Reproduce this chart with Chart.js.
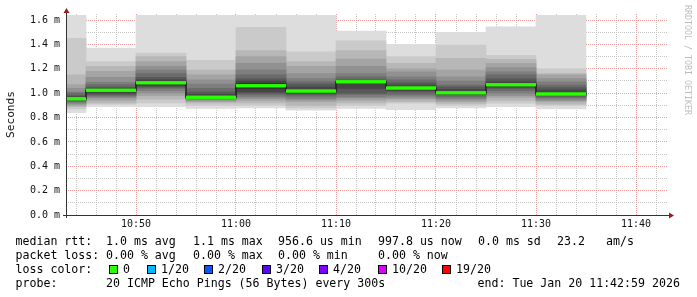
<!DOCTYPE html>
<html>
<head>
<meta charset="utf-8">
<script src="https://cdn.jsdelivr.net/npm/chart.js@4/dist/chart.umd.min.js"></script>
<style>
  html, body { margin: 0; padding: 0; background: #fff; }
  #wrap { position: relative; width: 697px; height: 297px; overflow: hidden; }
  #chart { position: absolute; left: 0; top: 0; }
  .leg { position: absolute; font: 11.6px "DejaVu Sans Mono", monospace; line-height: 14px; color: #000; white-space: pre; }
  .box { position: absolute; width: 9px; height: 9px; box-sizing: border-box; border: 1px solid #000; }
</style>
</head>
<body>
<div id="wrap">
  <canvas id="chart" width="697" height="297"></canvas>
  <div id="legend"></div>
</div>
<script>
// 5 minute slots, 20 pings each, sorted (ms)
const slotStart = [ "10:40", "10:45", "10:50", "10:55", "11:00", "11:05", "11:10", "11:15", "11:20", "11:25", "11:30" ];
const slotMinutes = 5;

const p1040 = [ 0.84, 0.87, 0.89, 0.90, 0.91, 0.92, 0.93, 0.94, 0.95, 0.955, 0.965, 0.97, 0.98, 1.00, 1.01, 1.04, 1.07, 1.15, 1.45, 1.64 ];
const p1045 = [ 0.89, 0.91, 0.92, 0.94, 0.96, 0.97, 0.98, 0.99, 1.00, 1.02, 1.03, 1.04, 1.05, 1.07, 1.09, 1.13, 1.18, 1.22, 1.26, 1.37 ];
const p1050 = [ 0.89, 0.92, 0.95, 0.98, 1.00, 1.02, 1.04, 1.05, 1.06, 1.075, 1.095, 1.11, 1.13, 1.16, 1.19, 1.22, 1.26, 1.30, 1.33, 1.64 ];
const p1055 = [ 0.875, 0.90, 0.92, 0.93, 0.94, 0.95, 0.955, 0.96, 0.962, 0.965, 0.967, 0.99, 1.01, 1.04, 1.075, 1.11, 1.15, 1.19, 1.27, 1.64 ];
const p1100 = [ 0.88, 0.90, 0.92, 0.94, 0.957, 0.97, 0.985, 1.00, 1.01, 1.04, 1.08, 1.10, 1.12, 1.15, 1.19, 1.245, 1.30, 1.35, 1.54, 1.64 ];
const p1105 = [ 0.86, 0.88, 0.90, 0.93, 0.945, 0.957, 0.976, 0.99, 1.00, 1.004, 1.03, 1.05, 1.075, 1.094, 1.12, 1.16, 1.22, 1.26, 1.34, 1.64 ];
const p1110 = [ 0.875, 0.90, 0.92, 0.94, 0.96, 0.97, 0.99, 1.00, 1.04, 1.09, 1.098, 1.10, 1.11, 1.135, 1.16, 1.22, 1.28, 1.35, 1.43, 1.51 ];
const p1115 = [ 0.865, 0.917, 0.93, 0.95, 0.96, 0.976, 0.99, 1.01, 1.02, 1.034, 1.05, 1.067, 1.086, 1.11, 1.135, 1.176, 1.20, 1.245, 1.30, 1.40 ];
const p1120 = [ 0.88, 0.90, 0.915, 0.93, 0.945, 0.957, 0.97, 0.985, 0.99, 0.996, 1.01, 1.03, 1.05, 1.067, 1.10, 1.135, 1.19, 1.286, 1.395, 1.50 ];
const p1125 = [ 0.89, 0.917, 0.94, 0.966, 0.98, 1.00, 1.02, 1.04, 1.05, 1.06, 1.08, 1.094, 1.12, 1.15, 1.176, 1.21, 1.245, 1.277, 1.31, 1.545 ];
const p1130 = [ 0.87, 0.90, 0.91, 0.93, 0.94, 0.95, 0.966, 0.975, 0.98, 0.986, 1.00, 1.026, 1.045, 1.067, 1.094, 1.12, 1.15, 1.16, 1.20, 1.64 ];
const pings = [ p1040, p1045, p1050, p1055, p1100, p1105, p1110, p1115, p1120, p1125, p1130 ];

const medianRtt = [ 0.955, 1.025, 1.085, 0.966, 1.06, 1.017, 1.094, 1.042, 1.003, 1.07, 0.993 ];

// axes
const xStart = "10:43";
const xEnd = 103.2; // minutes after 10:00
const xTickLabels = [ "10:50", "11:00", "11:10", "11:20", "11:30", "11:40" ];
const yTickLabels = [ "0.0 m", "0.2 m", "0.4 m", "0.6 m", "0.8 m", "1.0 m", "1.2 m", "1.4 m", "1.6 m" ];
const yMax = 1.65;

// legend text
const rttLabel = "median rtt:";
const rttStats = [ "1.0 ms avg", "1.1 ms max", "956.6 us min", "997.8 us now", "0.0 ms sd", "23.2", "am/s" ];
const lossLabel = "packet loss:";
const lossStats = [ "0.00 % avg", "0.00 % max", "0.00 % min", "0.00 % now" ];
const lossColorLabel = "loss color:";
const lossNames = [ "0", "1/20", "2/20", "3/20", "4/20", "10/20", "19/20" ];
const lossColors = [ "#26ff00", "#00b8ff", "#0059ff", "#5e00ff", "#7e00ff", "#dd00ff", "#ff0000" ];
const probeLabel = "probe:";
const probeText = "20 ICMP Echo Pings (56 Bytes) every 300s";
const endText = "end: Tue Jan 20 11:42:59 2026";
const watermark = "RRDTOOL / TOBI OETIKER";

const toMin = t => {
  const [ h, m ] = t.split( ":" ).map( Number );
  return ( h - 10 ) * 60 + m;
};

const xMajor = xTickLabels.map( toMin );
const xGrid = [];
for ( let m = 44; m < xEnd; m += 2 ) xGrid.push( m );
const yGrid = [];
for ( let k = 0; k <= 16; k++ ) yGrid.push( k / 10 );

const gray = "#c4c4c4";
const red = "#ec9a9a";
const monoFont = "DejaVu Sans Mono";

// smoke bands: pair i-th lowest with i-th highest ping, all in one stack slot
const half = pings[ 0 ].length / 2;
const datasets = [];
for ( let k = 0; k < half; k++ ) {
  const g = Math.floor( 190 / half * ( half - 1 - k ) ) + 50;
  datasets.push( {
    type: "bar",
    stack: "smoke",
    data: slotStart.map( ( s, j ) => ( {
      x: toMin( s ) + slotMinutes / 2,
      y: [ pings[ j ][ k ], pings[ j ][ pings[ j ].length - 1 - k ] ]
    } ) ),
    backgroundColor: `rgb(${ g },${ g },${ g })`,
    borderWidth: 0,
    barThickness: "flex",
    barPercentage: 1,
    categoryPercentage: 1,
    order: 2 + ( half - 1 - k ),
    clip: 0
  } );
};

const stepPts = slotStart.map( ( s, j ) => ( { x: toMin( s ), y: medianRtt[ j ] } ) );
stepPts.push( { x: toMin( slotStart[ slotStart.length - 1 ] ) + slotMinutes, y: medianRtt[ medianRtt.length - 1 ] } );
const greenPts = [];
slotStart.forEach( ( s, j ) => {
  const a = toMin( s );
  greenPts.push( { x: a, y: medianRtt[ j ] }, { x: a + slotMinutes, y: medianRtt[ j ] }, { x: a + slotMinutes, y: null } );
} );

const stepIdx = datasets.length;
datasets.push( {
  type: "line", data: stepPts, stepped: true, borderColor: "#202020", borderWidth: 1,
  pointRadius: 0, fill: false, order: 1, clip: 0
} );
const greenIdx = datasets.length;
datasets.push( {
  type: "line", data: greenPts, borderColor: lossColors[ 0 ], borderWidth: 3, borderCapStyle: "butt",
  pointRadius: 0, fill: false, spanGaps: false, order: 0, clip: 0
} );

const rrdFrame = {
  id: "rrdFrame",
  afterDraw ( chart ) {
    const { ctx, chartArea: a } = chart;
    // median lines sit above the grid
    ctx.save();
    ctx.beginPath();
    ctx.rect( a.left, a.top, a.right - a.left, a.bottom - a.top );
    ctx.clip();
    [ stepIdx, greenIdx ].forEach( i => chart.getDatasetMeta( i ).controller.draw() );
    ctx.restore();

    const x0 = a.left + 0.5;
    const yb = a.bottom + 0.5;
    ctx.save();
    ctx.strokeStyle = "#333";
    ctx.lineWidth = 1;
    ctx.beginPath();
    ctx.moveTo( x0, a.bottom + 3 ); ctx.lineTo( x0, a.top - 2 );
    ctx.moveTo( a.left - 3, yb ); ctx.lineTo( a.right + 1, yb );
    ctx.stroke();
    ctx.fillStyle = "#9a1c1c";
    ctx.beginPath();
    ctx.moveTo( x0, a.top - 6 ); ctx.lineTo( x0 - 3, a.top - 1 ); ctx.lineTo( x0 + 3, a.top - 1 );
    ctx.fill();
    ctx.beginPath();
    ctx.moveTo( a.right + 6, yb ); ctx.lineTo( a.right + 1, yb - 3 ); ctx.lineTo( a.right + 1, yb + 3 );
    ctx.fill();

    ctx.translate( 687, 5 );
    ctx.rotate( Math.PI / 2 );
    ctx.font = `8.3px "${ monoFont }"`;
    ctx.fillStyle = "#bdbdbd";
    ctx.textBaseline = "middle";
    ctx.fillText( watermark, 0, 0 );
    ctx.restore();
  }
};

new Chart( document.getElementById( "chart" ), {
  type: "bar",
  data: { datasets },
  plugins: [ rrdFrame ],
  options: {
    responsive: false,
    animation: false,
    events: [],
    layout: { padding: { top: 14, right: 29, bottom: 66, left: 0 } },
    plugins: { legend: { display: false }, tooltip: { enabled: false } },
    scales: {
      x: {
        type: "linear",
        min: toMin( xStart ),
        max: xEnd,
        offset: false,
        z: 1,
        afterBuildTicks: s => { s.ticks = xGrid.map( v => ( { value: v } ) ); },
        afterFit: s => { s.height = 16; },
        grid: {
          offset: false,
          drawTicks: false,
          color: c => xMajor.includes( c.tick.value ) ? red : gray
        },
        border: { display: false, dash: [ 1, 1 ] },
        ticks: {
          autoSkip: false, maxRotation: 0, minRotation: 0, padding: 3,
          color: "#111",
          font: { family: monoFont, size: 10 },
          callback: v => {
            const i = xMajor.indexOf( v );
            return i >= 0 ? xTickLabels[ i ] : "";
          }
        }
      },
      y: {
        min: 0,
        max: yMax,
        stacked: false,
        z: 1,
        afterBuildTicks: s => { s.ticks = yGrid.map( v => ( { value: v } ) ); },
        afterFit: s => { s.width = 66; },
        grid: {
          drawTicks: false,
          color: c => Math.round( c.tick.value * 10 ) % 2 === 0 ? red : gray
        },
        border: { display: false, dash: [ 1, 1 ] },
        title: {
          display: true, text: "Seconds", color: "#111",
          font: { family: monoFont, size: 11.2 },
          padding: { top: 4, bottom: 0 }
        },
        ticks: {
          autoSkip: false, padding: 6, color: "#111",
          font: { family: monoFont, size: 10 },
          callback: v => {
            const k = Math.round( v * 10 );
            return k % 2 === 0 ? yTickLabels[ k / 2 ] : "";
          }
        }
      }
    }
  }
} );

// legend rows below the plot
const legend = document.getElementById( "legend" );
function addText ( x, y, text ) {
  const d = document.createElement( "div" );
  d.className = "leg";
  d.style.left = x + "px";
  d.style.top = y + "px";
  d.textContent = text;
  legend.appendChild( d );
};
function addBox ( x, y, color ) {
  const d = document.createElement( "div" );
  d.className = "box";
  d.style.left = x + "px";
  d.style.top = y + "px";
  d.style.background = color;
  legend.appendChild( d );
};

const rowTop = [ 234, 248, 262, 276 ];
const statX = [ 106, 193, 278, 378, 478, 557, 606 ];
const boxX = [ 109, 147, 204, 262, 319, 378, 442 ];

addText( 15.5, rowTop[ 0 ], rttLabel );
rttStats.forEach( ( t, i ) => addText( statX[ i ], rowTop[ 0 ], t ) );
addText( 15.5, rowTop[ 1 ], lossLabel );
lossStats.forEach( ( t, i ) => addText( statX[ i ], rowTop[ 1 ], t ) );
addText( 15.5, rowTop[ 2 ], lossColorLabel );
lossNames.forEach( ( t, i ) => {
  addBox( boxX[ i ], 265, lossColors[ i ] );
  addText( boxX[ i ] + 14, rowTop[ 2 ], t );
} );
addText( 15.5, rowTop[ 3 ], probeLabel );
addText( statX[ 0 ], rowTop[ 3 ], probeText );
addText( 477.5, rowTop[ 3 ], endText );
</script>
</body>
</html>
